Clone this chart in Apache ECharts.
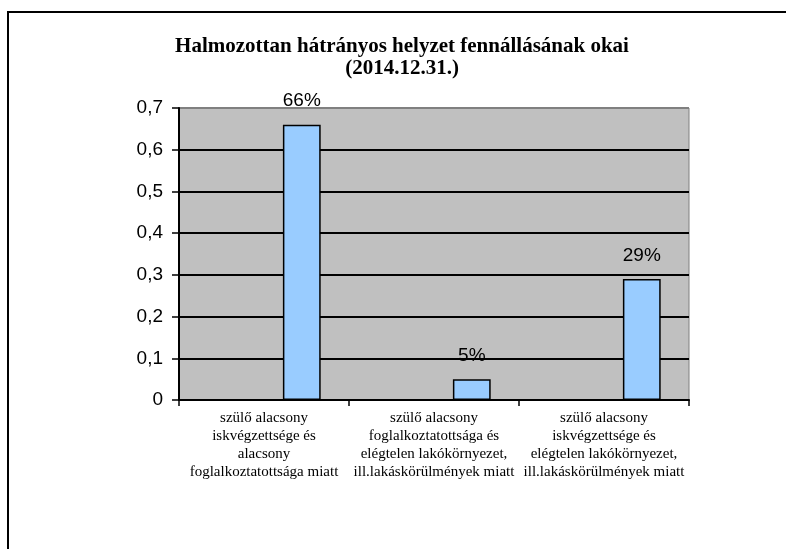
<!DOCTYPE html>
<html>
<head>
<meta charset="utf-8">
<script src="https://cdn.jsdelivr.net/npm/echarts@6/dist/echarts.min.js"></script>
<style>html,body{margin:0;padding:0;background:#fff;}#c{width:786px;height:549px;}</style>
</head>
<body>
<div id="c"></div>
<script>
var categories = [
  "szülő alacsony\niskvégzettsége és\nalacsony\nfoglalkoztatottsága miatt",
  "szülő alacsony\nfoglalkoztatottsága és\nelégtelen lakókörnyezet,\nill.lakáskörülmények miatt",
  "szülő alacsony\niskvégzettsége és\nelégtelen lakókörnyezet,\nill.lakáskörülmények miatt"
];
var values = [0.66, 0.05, 0.29];
var emptySeries = [null, null, null];
var titleText = "Halmozottan hátrányos helyzet fennállásának okai\n(2014.12.31.)";

var chart = echarts.init(document.getElementById('c'));
chart.setOption({
  animation: false,
  backgroundColor: '#ffffff',
  graphic: [{
    type: 'rect', z: 0, silent: true,
    shape: {x: 8, y: 12, width: 900, height: 700},
    style: {fill: 'none', stroke: '#000', lineWidth: 2}
  }],
  title: {
    text: titleText,
    left: 397, top: 31, textAlign: 'center',
    textStyle: {fontFamily: 'Liberation Serif', fontWeight: 'bold', fontSize: 21, lineHeight: 22, color: '#000'}
  },
  grid: {left: 179, right: 97, top: 108, bottom: 149, show: true, backgroundColor: '#c0c0c0', borderColor: '#808080', borderWidth: 1},
  xAxis: {
    type: 'category', data: categories,
    axisLine: {lineStyle: {color: '#000', width: 2}},
    axisTick: {show: true, length: 6, lineStyle: {color: '#000', width: 1.5}},
    axisLabel: {interval: 0, margin: 9, color: '#000', fontFamily: 'Liberation Serif', fontSize: 15, lineHeight: 18}
  },
  yAxis: {
    type: 'value', min: 0, max: 0.7, interval: 0.1,
    axisLine: {show: true, lineStyle: {color: '#000', width: 2}},
    axisTick: {show: true, length: 7, lineStyle: {color: '#000', width: 1.5}},
    axisLabel: {margin: 16, color: '#000', fontFamily: 'Liberation Sans', fontSize: 19,
      formatter: function (v) { return String(Math.round(v * 10) / 10).replace('.', ','); }},
    splitLine: {show: true, lineStyle: {color: ['#000', '#000', '#000', '#000', '#000', '#000', '#000', '#808080'], width: 2}}
  },
  series: [
    {type: 'bar', data: emptySeries, barGap: '100%', barCategoryGap: '33.3%'},
    {type: 'bar', data: values, barGap: '100%', barCategoryGap: '33.3%',
      itemStyle: {color: '#99ccff', borderColor: '#000', borderWidth: 1.5},
      label: {show: true, position: 'top', distance: 14, color: '#000', fontFamily: 'Liberation Sans', fontSize: 19,
        formatter: function (p) { return Math.round(p.value * 100) + '%'; }}
    }
  ]
});
</script>
</body>
</html>
